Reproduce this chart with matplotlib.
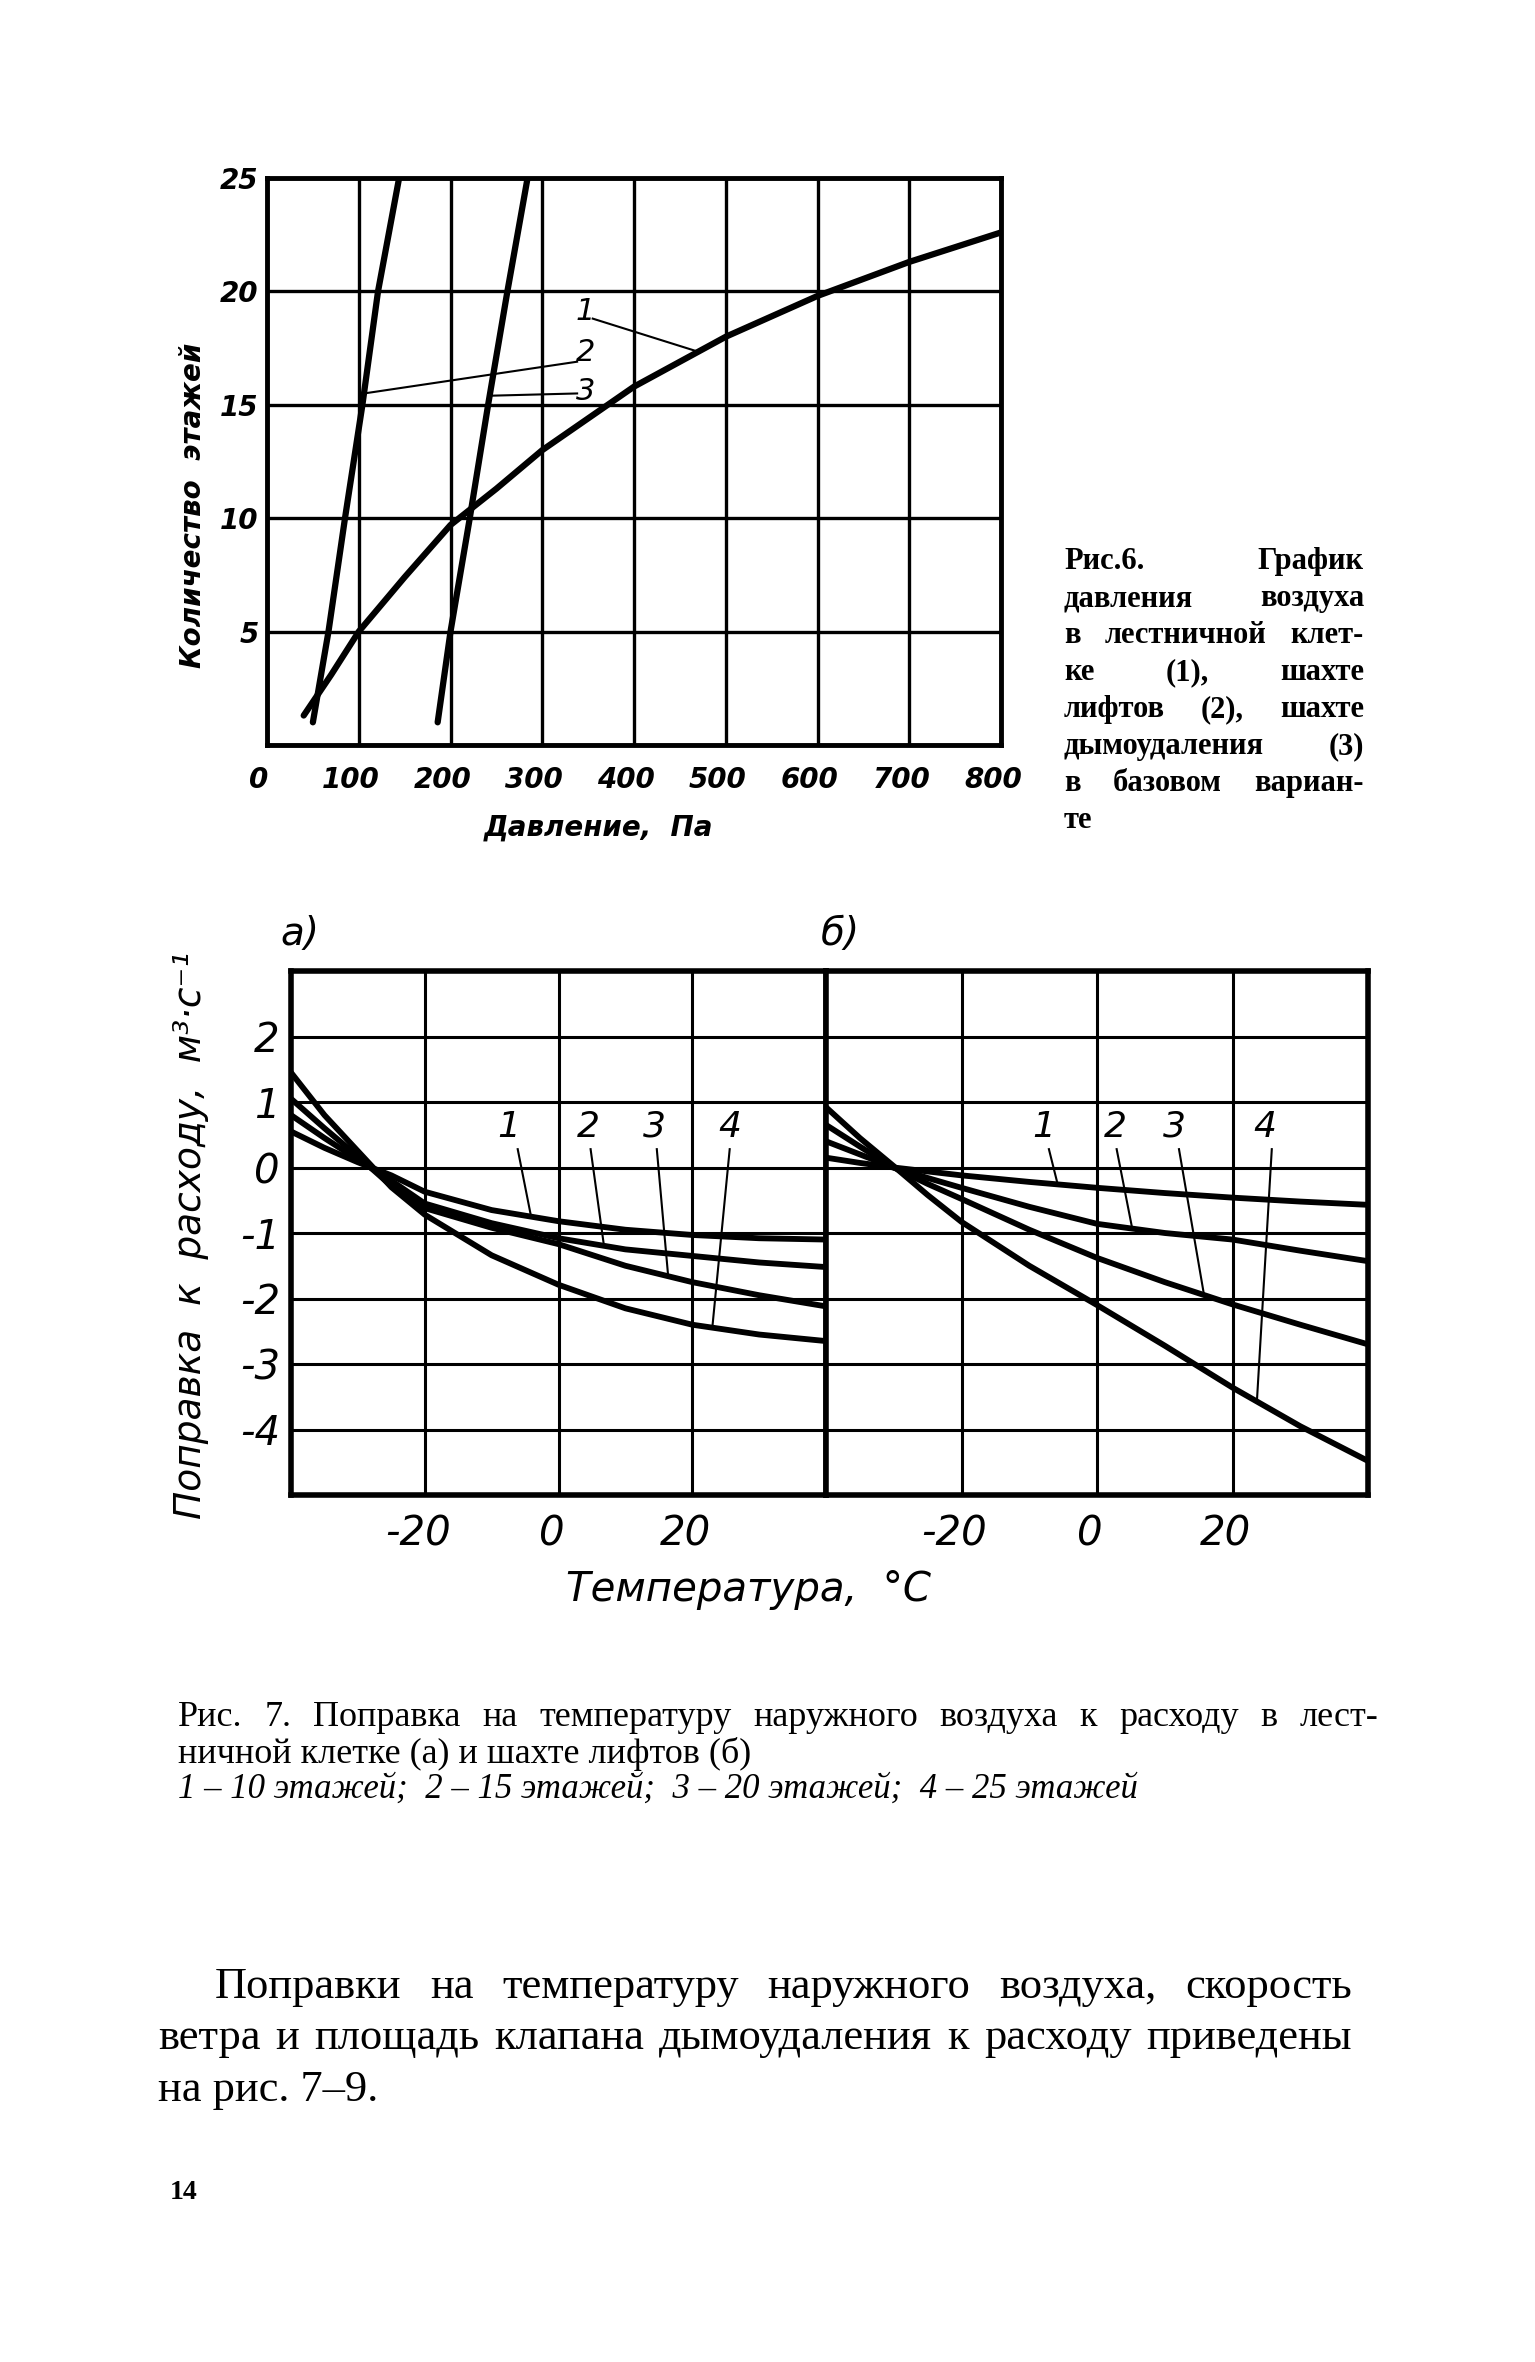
import matplotlib
matplotlib.use("Agg")
import matplotlib.pyplot as plt
import matplotlib.transforms as mtransforms
import numpy as np

W, H = 1535, 2362

# ---- Рис. 6: давление воздуха ----
p_stair = [40, 70, 100, 150, 200, 250, 300, 400, 500, 600, 700, 800]
n_stair = [1.3, 3.1, 5.0, 7.4, 9.7, 11.3, 13.0, 15.8, 18.0, 19.8, 21.3, 22.6]
p_lift = [50, 67, 85, 104, 121, 144]
n_lift = [1, 5, 10, 15, 20, 25]
p_smoke = [186, 200, 221, 241, 262, 284]
n_smoke = [1, 5, 10, 15, 20, 25]

# ---- Рис. 7: поправка на температуру ----
temp = [-40, -35, -30, -25, -20, -10, 0, 10, 20, 30, 40]
a1 = [0.55, 0.30, 0.08, -0.12, -0.37, -0.65, -0.82, -0.95, -1.03, -1.08, -1.10]
a2 = [0.80, 0.45, 0.12, -0.20, -0.55, -0.85, -1.08, -1.25, -1.35, -1.45, -1.52]
a3 = [1.05, 0.60, 0.17, -0.28, -0.62, -0.92, -1.17, -1.50, -1.75, -1.95, -2.12]
a4 = [1.45, 0.80, 0.25, -0.30, -0.72, -1.34, -1.79, -2.15, -2.40, -2.55, -2.65]
b1 = [0.15, 0.07, 0.00, -0.06, -0.12, -0.22, -0.31, -0.39, -0.46, -0.52, -0.57]
b2 = [0.40, 0.20, 0.00, -0.16, -0.31, -0.60, -0.86, -1.00, -1.10, -1.27, -1.43]
b3 = [0.65, 0.32, 0.00, -0.25, -0.48, -0.95, -1.38, -1.75, -2.09, -2.40, -2.70]
b4 = [0.92, 0.45, 0.02, -0.42, -0.83, -1.50, -2.10, -2.72, -3.36, -3.95, -4.48]

fig = plt.figure(figsize=(W / 100, H / 100), dpi=100)
fig.patch.set_facecolor("white")

sans = ["DejaVu Sans"]
serif = ["Liberation Serif", "DejaVu Serif"]


def box(l, t, r, b):
    return [l / W, 1 - b / H, (r - l) / W, (b - t) / H]


def style_axes(ax, spine_lw, grid_lw):
    for s in ax.spines.values():
        s.set_linewidth(spine_lw)
    ax.grid(True, color="black", lw=grid_lw)
    ax.set_axisbelow(True)
    ax.tick_params(length=0)


def shift_labels(labels, dx):
    off = mtransforms.ScaledTranslation(dx / 100, 0, fig.dpi_scale_trans)
    for t in labels:
        t.set_transform(t.get_transform() + off)


# ---------- top chart ----------
ax = fig.add_axes(box(267, 178, 1001, 745))
ax.set_xlim(0, 800)
ax.set_ylim(0, 25)
ax.set_xticks(range(0, 801, 100))
ax.set_yticks(range(0, 26, 5))
ax.set_yticklabels(["", "5", "10", "15", "20", "25"])
style_axes(ax, 3.5, 2.4)
ax.tick_params(axis="x", pad=15)
ax.tick_params(axis="y", pad=6)
for t in ax.get_xticklabels() + ax.get_yticklabels():
    t.set_fontsize(20)
    t.set_fontstyle("italic")
    t.set_fontweight("bold")
    t.set_family(sans)
shift_labels(ax.get_xticklabels(), -8)

kw = dict(color="black", lw=4.5, solid_capstyle="round", clip_on=True)
ax.plot(p_stair, n_stair, **kw)
ax.plot(p_lift, n_lift, **kw)
ax.plot(p_smoke, n_smoke, **kw)

lkw = dict(color="black", lw=1.5)
ax.plot([355, 470], [18.8, np.interp(470, p_stair, n_stair)], **lkw)
ax.plot([338, np.interp(15.5, n_lift, p_lift)], [16.9, 15.5], **lkw)
ax.plot([338, np.interp(15.4, n_smoke, p_smoke)], [15.5, 15.4], **lkw)
for s, y in [("1", 19.1), ("2", 17.3), ("3", 15.6)]:
    ax.text(347, y, s, fontsize=22, style="italic", ha="center", va="center", family=sans)

fig.text(193 / W, 1 - 505 / H, "Количество  этажей", rotation=90, fontsize=20,
         style="italic", weight="bold", ha="center", va="center", family=sans)
fig.text(598 / W, 1 - 828 / H, "Давление,  Па", fontsize=20, style="italic",
         weight="bold", ha="center", va="center", family=sans)

# ---------- bottom chart ----------
ax_a = fig.add_axes(box(291, 971, 826, 1495))
ax_b = fig.add_axes(box(826, 971, 1368, 1495))
curves = {ax_a: [a1, a2, a3, a4], ax_b: [b1, b2, b3, b4]}
for a in (ax_a, ax_b):
    a.set_xlim(-40, 40)
    a.set_ylim(-5, 3)
    a.set_xticks([-40, -20, 0, 20, 40])
    a.set_xticklabels(["", "-20", "0", "20", ""])
    a.set_yticks(range(-5, 4))
    style_axes(a, 4.0, 2.2)
    a.tick_params(axis="x", pad=14)
    for c in curves[a]:
        a.plot(temp, c, color="black", lw=4.2, solid_capstyle="round")
ax_a.set_yticklabels(["", "-4", "-3", "-2", "-1", "0", "1", "2", ""])
ax_a.tick_params(axis="y", pad=8)
ax_b.set_yticklabels([])
for a in (ax_a, ax_b):
    for t in a.get_xticklabels() + a.get_yticklabels():
        t.set_fontsize(29)
        t.set_fontstyle("italic")
        t.set_family(sans)
    shift_labels(a.get_xticklabels(), -7)

leaders_a = [("1", -7.4, -6.1, -4.1), ("2", 4.5, 4.8, 6.8), ("3", 14.4, 14.7, 16.4), ("4", 25.6, 25.6, 23.0)]
leaders_b = [("1", -7.9, -7.1, -5.8), ("2", 2.7, 2.9, 5.2), ("3", 11.5, 12.1, 15.8), ("4", 24.8, 25.8, 23.6)]
for a, leaders in ((ax_a, leaders_a), (ax_b, leaders_b)):
    for (s, xt, x0, x1), c in zip(leaders, curves[a]):
        a.text(xt, 0.62, s, fontsize=26, style="italic", ha="center", va="center", family=sans)
        a.plot([x0, x1], [0.28, np.interp(x1, temp, c)], color="black", lw=1.5)

fig.text(300 / W, 1 - 934 / H, "а)", fontsize=28, style="italic", ha="center", va="center", family=sans)
fig.text(840 / W, 1 - 934 / H, "б)", fontsize=28, style="italic", ha="center", va="center", family=sans)
fig.text(191 / W, 1 - 1235 / H, "Поправка  к  расходу,  м³·с⁻¹", rotation=90, fontsize=27,
         style="italic", ha="center", va="center", family=sans)
fig.text(748 / W, 1 - 1590 / H, "Температура,  °С", fontsize=29, style="italic",
         ha="center", va="center", family=sans)

# ---------- text of the page ----------
renderer = fig.canvas.get_renderer()


def justify(words, x0, x1, ybase, **kw):
    ts = [fig.text(0, 1 - ybase / H, w, va="baseline", **kw) for w in words]
    ws = [t.get_window_extent(renderer).width for t in ts]
    gap = (x1 - x0 - sum(ws)) / max(len(ws) - 1, 1)
    x = x0
    for t, w in zip(ts, ws):
        t.set_x(x / W)
        x += w + gap


cap6 = dict(fontsize=22, family=serif, weight="bold")
cap6_lines = [
    ["Рис.6.", "График"],
    ["давления", "воздуха"],
    ["в", "лестничной", "клет-"],
    ["ке", "(1),", "шахте"],
    ["лифтов", "(2),", "шахте"],
    ["дымоудаления", "(3)"],
    ["в", "базовом", "вариан-"],
]
for i, words in enumerate(cap6_lines):
    justify(words, 1064, 1364, 569 + i * 37.0, **cap6)
fig.text(1064 / W, 1 - (569 + 7 * 37.0) / H, "те", va="baseline", **cap6)

cap7 = dict(fontsize=26, family=serif)
justify("Рис. 7. Поправка на температуру наружного воздуха к расходу в лест-".split(),
        178, 1378, 1726, **cap7)
fig.text(178 / W, 1 - 1763 / H, "ничной клетке (а) и шахте лифтов (б)", va="baseline", **cap7)
fig.text(178 / W, 1 - 1798 / H, "1 – 10 этажей;  2 – 15 этажей;  3 – 20 этажей;  4 – 25 этажей",
         va="baseline", style="italic", fontsize=25, family=serif)

body = dict(fontsize=32, family=serif)
justify("Поправки на температуру наружного воздуха, скорость".split(), 215, 1352, 1998, **body)
justify("ветра и площадь клапана дымоудаления к расходу приведены".split(), 158, 1352, 2049, **body)
fig.text(158 / W, 1 - 2101 / H, "на рис. 7–9.", va="baseline", **body)
fig.text(170 / W, 1 - 2199 / H, "14", va="baseline", fontsize=20, weight="bold", family=serif)

fig.savefig("out.png", dpi=100, facecolor="white")
